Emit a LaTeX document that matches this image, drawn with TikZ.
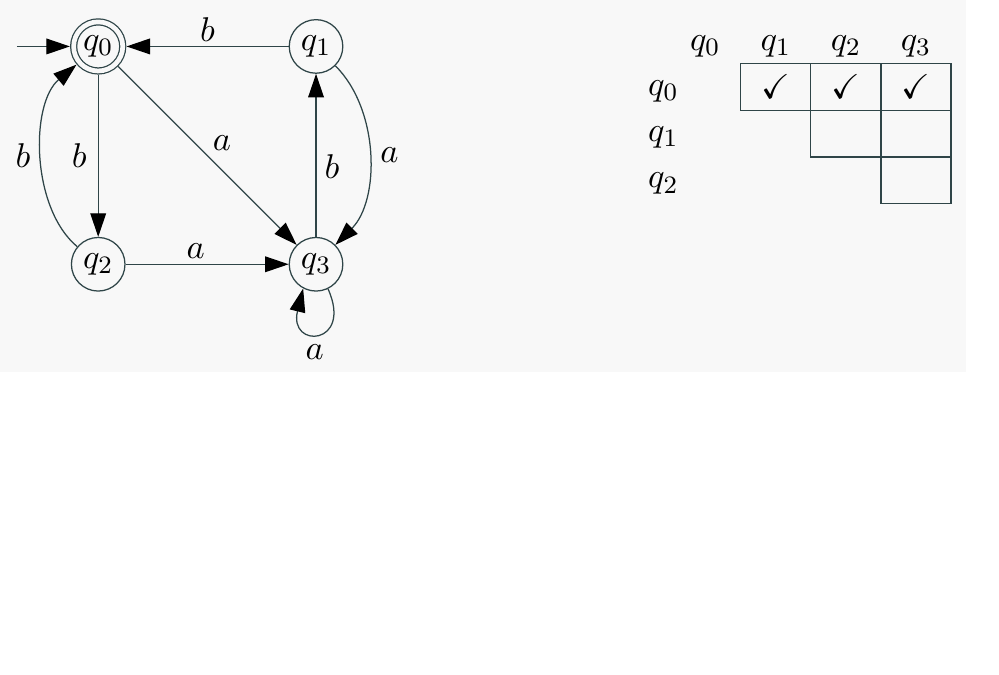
\documentclass[tikz,border=0pt]{standalone}
\usepackage{amssymb}
\usetikzlibrary{arrows.meta}
\usetikzlibrary{positioning}

\definecolor{bgcol}{RGB}{248,248,248}
\definecolor{linecol}{RGB}{47,69,72}

\tikzset{
  state/.style={circle,draw=linecol,minimum size=0.6cm,inner sep=0pt},
  final/.style={double=bgcol,double distance=1.5pt,minimum size=0.55cm,%
    outer sep=1.2pt},
  edge/.style={draw=linecol,-{Triangle[length=7.5pt,width=5pt,color=black]}},
  lbl/.style={inner sep=1.5pt},
  cell/.style={draw=linecol,minimum width=0.785cm,minimum height=0.523cm,%
    inner sep=0pt}
}

\begin{document}
\begin{tikzpicture}[font=\fontsize{11}{13}\selectfont]
  % 背景
  \fill[bgcol] (0,0) rectangle (10.82,-4.17);
  % ここまでをバウンディングボックス内とする
  \useasboundingbox (0,0) rectangle (11.19,-7.55);

  % 状態
  \node[state,final] (q0) at (1.10,-0.52) {$q_0$};
  \node[state] (q1) at (3.54,-0.52) {$q_1$};
  \node[state] (q2) at (1.10,-2.96) {$q_2$};
  \node[state] (q3) at (3.54,-2.96) {$q_3$};
  \coordinate (start) at (0.19,-0.52);

  % 遷移
  \draw[edge] (start) -- (q0);
  \draw[edge] (q1) -- node[lbl,above] {$b$} (q0);
  \draw[edge] (q0) -- node[lbl,left=2pt] {$b$} (q2);
  \draw[edge] (q2) to[out=140,in=-140,looseness=0.85]%
    node[lbl,left=2pt] {$b$} (q0);
  \draw[edge] (q0) -- node[lbl,above right] {$a$} (q3);
  \draw[edge] (q1) to[out=-45,in=45,looseness=0.9]%
    node[lbl,right=2pt] {$a$} (q3);
  \draw[edge] (q3) -- node[lbl,pos=0.43,right=1pt] {$b$} (q1);
  \draw[edge] (q2) -- node[lbl,pos=0.43,above] {$a$} (q3);
  \draw[edge] (q3.-64) .. controls +(-66:0.7) and +(-104:0.7) ..%
    node[lbl,below=2pt,xshift=-1.5pt] {$a$} (q3.-118);

  % 表の見出し
  \node (h0) at (7.90,-0.52) {$q_0$};
  \node (h1) at (8.69,-0.52) {$q_1$};
  \node (h2) at (9.475,-0.52) {$q_2$};
  \node (h3) at (10.26,-0.52) {$q_3$};
  \node (r0) at (7.43,-1.025) {$q_0$};
  \node (r1) at (7.43,-1.534) {$q_1$};
  \node (r2) at (7.43,-2.06) {$q_2$};

  % 表のマス
  \node[cell] (c01) at (8.69,-0.974) {$\checkmark$};
  \node[cell] (c02) at (9.475,-0.974) {$\checkmark$};
  \node[cell] (c03) at (10.26,-0.974) {$\checkmark$};
  \node[cell] (c12) at (9.475,-1.497) {};
  \node[cell] (c13) at (10.26,-1.497) {};
  \node[cell] (c23) at (10.26,-2.02) {};
\end{tikzpicture}
\end{document}
